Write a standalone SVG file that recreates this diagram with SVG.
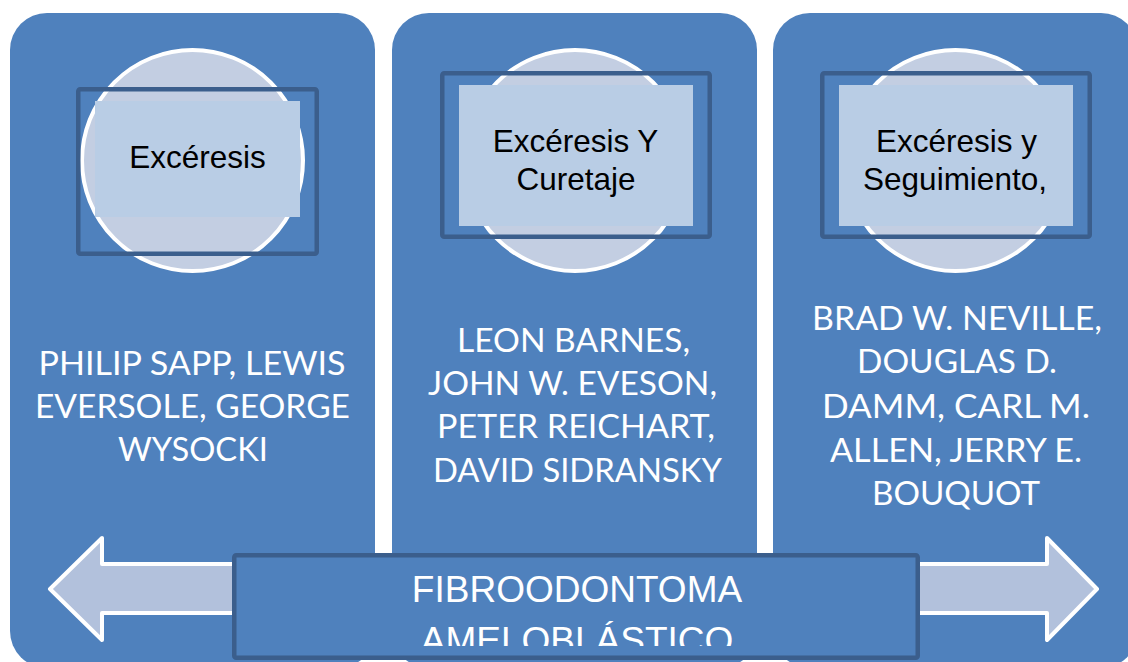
<svg xmlns="http://www.w3.org/2000/svg" width="1128" height="662" viewBox="0 0 1128 662">
<style>
.panel{fill:#4f81bd}
.circ{fill:#c3cee2;stroke:#ffffff;stroke-width:4}
.frame{fill:none;stroke:#3b5e8c;stroke-width:4.5}
.lite{fill:#b9cde5}
.head{font-family:"Liberation Sans",Arial,sans-serif;font-size:31.5px;fill:#000000;text-anchor:middle}
.names{font-family:Lato,"Open Sans",sans-serif;font-size:32px;fill:#ffffff;text-anchor:middle}
.arrow{fill:#b2c1dc;stroke:#ffffff;stroke-width:4;stroke-linejoin:round}
.box{fill:#4f81bd;stroke:#3b5e8c;stroke-width:4.5}
.boxtext{font-family:"Liberation Sans",Arial,sans-serif;font-size:37px;fill:#ffffff;text-anchor:middle}
</style>
<defs>
<clipPath id="boxclip"><rect x="236" y="557" width="680" height="89"/></clipPath>
</defs>
<rect width="1128" height="662" fill="#ffffff"/>

<g id="panel1">
<rect class="panel" x="10" y="13" width="365" height="655" rx="37"/>
<circle class="circ" cx="192.5" cy="160.5" r="110.5"/>
<rect class="frame" x="78.25" y="89.25" width="238.5" height="164.5" rx="2"/>
<rect class="lite" x="95" y="101" width="205" height="116"/>
<text class="head" x="197.5" y="168">Excéresis</text>
<text class="names" x="192" y="375" textLength="307" lengthAdjust="spacingAndGlyphs">PHILIP SAPP, LEWIS</text>
<text class="names" x="192.5" y="418" textLength="315" lengthAdjust="spacingAndGlyphs">EVERSOLE, GEORGE</text>
<text class="names" x="193" y="461" textLength="150" lengthAdjust="spacingAndGlyphs">WYSOCKI</text>
</g>

<g id="panel2">
<rect class="panel" x="392" y="13" width="365" height="655" rx="37"/>
<circle class="circ" cx="575" cy="160.5" r="110.5"/>
<rect class="frame" x="442.25" y="73.25" width="267.5" height="163.5" rx="2"/>
<rect class="lite" x="459" y="85" width="234" height="141"/>
<text class="head" x="575.5" y="152">Excéresis Y</text>
<text class="head" x="576" y="190">Curetaje</text>
<text class="names" x="573.5" y="352" textLength="233" lengthAdjust="spacingAndGlyphs">LEON BARNES,</text>
<text class="names" x="572.5" y="395" textLength="289" lengthAdjust="spacingAndGlyphs">JOHN W. EVESON,</text>
<text class="names" x="576" y="438" textLength="278" lengthAdjust="spacingAndGlyphs">PETER REICHART,</text>
<text class="names" x="577.5" y="482" textLength="289" lengthAdjust="spacingAndGlyphs">DAVID SIDRANSKY</text>
</g>

<g id="panel3">
<rect class="panel" x="773" y="13" width="365" height="655" rx="37"/>
<circle class="circ" cx="955.5" cy="160.5" r="110.5"/>
<rect class="frame" x="822.25" y="73.25" width="267.5" height="163.5" rx="2"/>
<rect class="lite" x="839" y="85" width="234" height="141"/>
<text class="head" x="956.5" y="152">Excéresis y</text>
<text class="head" x="955" y="190">Seguimiento,</text>
<text class="names" x="957" y="330" textLength="290" lengthAdjust="spacingAndGlyphs">BRAD W. NEVILLE,</text>
<text class="names" x="957" y="373" textLength="200" lengthAdjust="spacingAndGlyphs">DOUGLAS D.</text>
<text class="names" x="956" y="418" textLength="268" lengthAdjust="spacingAndGlyphs">DAMM, CARL M.</text>
<text class="names" x="956" y="462" textLength="252" lengthAdjust="spacingAndGlyphs">ALLEN, JERRY E.</text>
<text class="names" x="956" y="505" textLength="168" lengthAdjust="spacingAndGlyphs">BOUQUOT</text>
</g>

<g id="connectors">
<path class="arrow" d="M50,589 L102,538 L102,564 L1047,564 L1047,538 L1097,589 L1047,640 L1047,613 L102,613 L102,640 Z"/>
</g>

<g id="center-box">
<rect class="box" x="234.25" y="555.25" width="683.5" height="102.5" rx="2"/>
<g clip-path="url(#boxclip)">
<text class="boxtext" x="577" y="602">FIBROODONTOMA</text>
<text class="boxtext" x="577" y="653">AMELOBLÁSTICO</text>
</g>
</g>
</svg>
